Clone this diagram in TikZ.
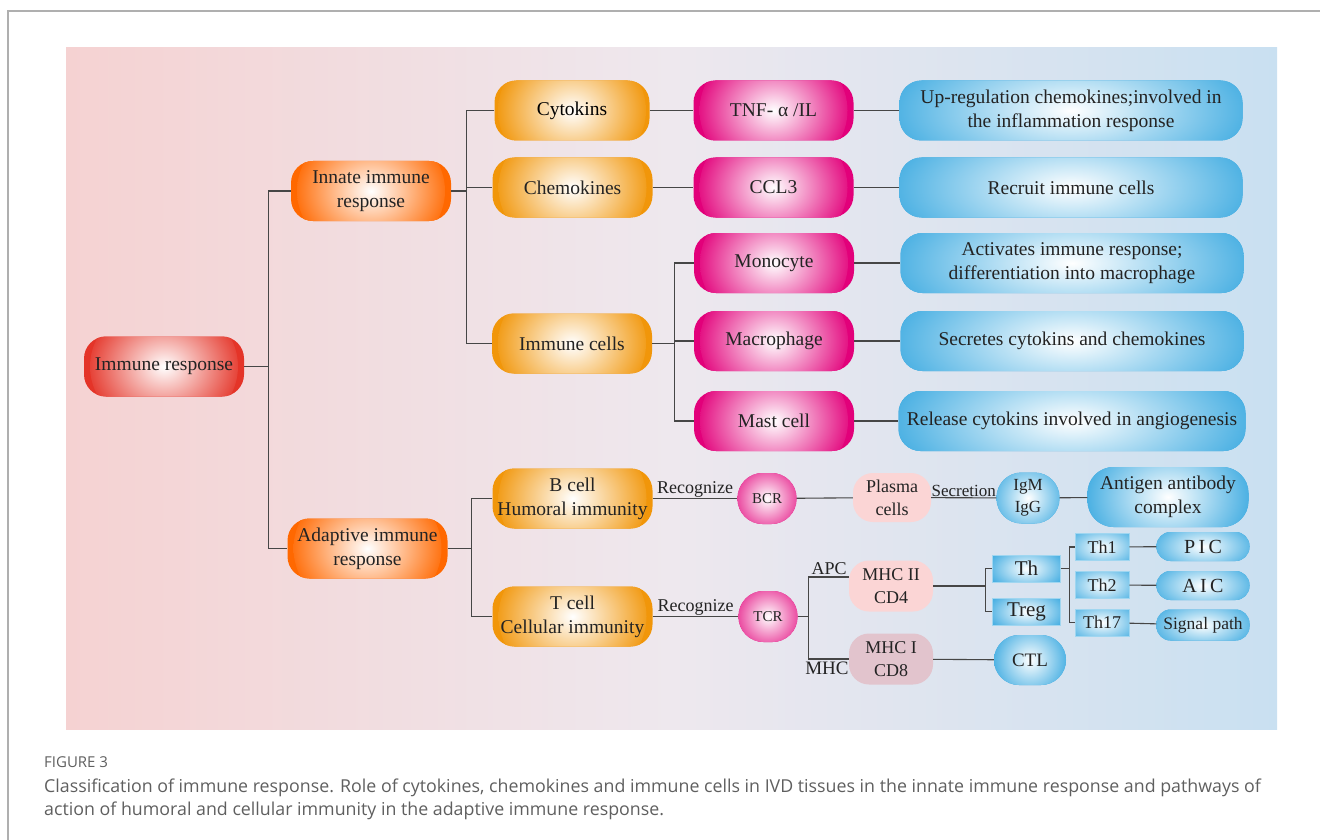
\documentclass[tikz,border=0pt]{standalone}
\usepackage{fontspec}
\setmainfont{Liberation Serif}
\newfontfamily\capfont{Open Sans}
\definecolor{cRed}{RGB}{228,52,40}
\definecolor{cOrange}{RGB}{255,104,0}
\definecolor{cAmber}{RGB}{241,150,10}
\definecolor{cMag}{RGB}{226,0,122}
\definecolor{cBlue}{RGB}{44,163,222}
\definecolor{cPink}{RGB}{251,213,213}
\definecolor{cMauve}{RGB}{226,196,205}
\definecolor{cLine}{RGB}{70,70,70}
\definecolor{cTxt}{RGB}{35,35,35}
\definecolor{bgL}{RGB}{245,210,210}
\definecolor{bgM}{RGB}{238,232,238}
\definecolor{bgR}{RGB}{201,224,241}
\definecolor{cFrame}{RGB}{175,175,175}
\definecolor{capgray}{RGB}{95,95,95}
\tikzset{
  ln/.style={draw=cLine, line width=1.1pt},
  base/.style={rectangle, inner sep=0pt, align=center, text=cTxt, font=\fontsize{19.5}{24}\selectfont},
  glow/.style n args={3}{fill=#1, path picture={\shade[inner color=white, outer color=#1] (path picture bounding box.center) ellipse [x radius=#2, y radius=#3];}},
  pill/.style={base, rounded corners=22pt, minimum width=160pt, minimum height=60pt},
  redpill/.style={pill, glow={cRed}{74pt}{66pt}},
  orapill/.style={pill, glow={cOrange}{74pt}{66pt}},
  ambpill/.style={pill, glow={cAmber}{74pt}{66pt}},
  magpill/.style={pill, glow={cMag}{74pt}{66pt}},
  widepill/.style={base, rounded corners=22pt, minimum width=343pt, minimum height=60pt, glow={cBlue}{210pt}{85pt}},
  magdot/.style={base, rounded corners=25pt, minimum width=59pt, minimum height=51pt, glow={cMag}{42pt}{42pt}, font=\fontsize{15}{18}\selectfont},
  bluedot/.style={base, rounded corners=25pt, minimum height=51pt, glow={cBlue}{44pt}{44pt}, font=\fontsize{17}{22}\selectfont},
  softbox/.style={base, rounded corners=20pt, minimum width=84pt, minimum height=51pt, font=\fontsize{18}{23}\selectfont},
  threct/.style={base, minimum height=27pt, draw=cBlue!45!white, line width=0.8pt, glow={cBlue}{46pt}{26pt}},
  smallpill/.style={base, rounded corners=14pt, minimum width=93pt, minimum height=29pt, glow={cBlue}{62pt}{30pt}},
  lbl/.style={inner sep=1pt, text=cTxt, font=\fontsize{18}{22}\selectfont},
}
\begin{document}
\begin{tikzpicture}[x=1pt,y=-1pt]
\useasboundingbox (0,0) rectangle (1320,840);
% frame and background
\draw[cFrame, line width=1.5pt] (8,840) -- (8,11) -- (1320,11);
\shade[left color=bgL, right color=bgR, middle color=bgM] (66,48) rectangle (1277,729);

% level 0-1
\node[redpill] (imm) at (164,366.5) {Immune response};
\node[orapill] (inn) at (371,191) {Innate immune\\response};
\node[orapill] (adp) at (367.5,548.5) {Adaptive immune\\response};

% innate level 2
\node[ambpill, minimum width=155pt, text=black] (cyto) at (572,110.5) {Cytokins};
\node[ambpill] (chemo) at (572.5,187.5) {Chemokines};
\node[ambpill] (icells) at (572,343.5) {Immune cells};

% innate level 3
\node[magpill] (tnf) at (773.5,110.5) {TNF- α /IL};
\node[magpill] (ccl) at (773.5,187.5) {CCL3};
\node[magpill] (mono) at (774,263) {Monocyte};
\node[magpill] (macro) at (774,341) {Macrophage};
\node[magpill] (mast) at (774,421) {Mast cell};

% innate level 4
\node[widepill] (up) at (1071,110.5) {Up-regulation chemokines;involved in\\the inflammation response};
\node[widepill] (rec) at (1071,187.5) {Recruit immune cells};
\node[widepill] (act) at (1072,263) {Activates immune response;\\differentiation into macrophage};
\node[widepill] (sec) at (1072,341) {Secretes cytokins and chemokines};
\node[widepill, minimum width=347pt] (rel) at (1072,421) {Release cytokins involved in angiogenesis};

% adaptive
\node[ambpill] (bcell) at (572.5,498.5) {B cell\\Humoral immunity};
\node[ambpill] (tcell) at (572.5,616.5) {T cell\\Cellular immunity};
\node[magdot] (bcr) at (767,498.5) {BCR};
\node[magdot] (tcr) at (768,616.5) {TCR};
\node[softbox, fill=cPink, minimum width=78pt, minimum height=49pt] (plasma) at (892,497.5) {Plasma\\cells};
\node[bluedot, minimum width=63pt] (igm) at (1028,498) {IgM\\IgG};
\node[base, rounded corners=26pt, minimum width=161pt, minimum height=60pt, glow={cBlue}{95pt}{72pt}] (ag) at (1168,497) {Antigen antibody\\complex};
\node[softbox, fill=cPink] (mhc2) at (891,586) {MHC II\\CD4};
\node[softbox, fill=cMauve] (mhc1) at (891,659) {MHC I\\CD8};
\node[threct, minimum width=68pt, font=\fontsize{21}{24}\selectfont] (th) at (1026.5,568.5) {Th};
\node[threct, minimum width=68pt, font=\fontsize{21}{24}\selectfont] (treg) at (1026.5,611.5) {Treg};
\node[threct, minimum width=54pt, font=\fontsize{18}{22}\selectfont] (th1) at (1102,547) {Th1};
\node[threct, minimum width=54pt, font=\fontsize{18}{22}\selectfont] (th2) at (1102,585) {Th2};
\node[threct, minimum width=54pt, font=\fontsize{18}{22}\selectfont] (th17) at (1102,622.5) {Th17};
\node[smallpill, font=\fontsize{20}{24}\selectfont] (pic) at (1203,546.5) {P\,I\,C};
\node[smallpill, font=\fontsize{20}{24}\selectfont] (aic) at (1203,585.5) {A\,I\,C};
\node[smallpill, minimum height=31pt, font=\fontsize{17.5}{22}\selectfont] (sig) at (1203,625) {Signal path};
\node[bluedot, minimum width=72pt, minimum height=50pt, font=\fontsize{19}{22}\selectfont] (ctl) at (1030,660) {CTL};

% connectors: innate
\draw[ln] (imm.east) -- ++(24,0) coordinate (j1);
\draw[ln] (inn.west) -| (j1) |- (adp.west);
\draw[ln] (inn.east) -- ++(15,0) coordinate (j2);
\draw[ln] (cyto.west) -| (j2) |- (icells.west);
\draw[ln] (j2) |- (chemo.west);
\draw[ln] (cyto) -- (tnf);
\draw[ln] (chemo) -- (ccl);
\draw[ln] (tnf) -- (up);
\draw[ln] (ccl) -- (rec);
\draw[ln] (icells.east) -- ++(22,0) coordinate (j3);
\draw[ln] (mono.west) -| (j3) |- (mast.west);
\draw[ln] (j3) |- (macro.west);
\draw[ln] (mono) -- (act);
\draw[ln] (macro) -- (sec);
\draw[ln] (mast) -- (rel);

% connectors: adaptive
\draw[ln] (adp.east) -- ++(24,0) coordinate (j4);
\draw[ln] (bcell.west) -| (j4) |- (tcell.west);
\draw[ln] (bcell) -- node[lbl, above=0pt] (recb) {Recognize} (bcr);
\draw[ln] (bcr) -- (plasma);
\draw[ln] (plasma) -- node[lbl, above=0pt, font=\fontsize{17}{22}\selectfont] (secr) {Secretion} (igm);
\draw[ln] (igm) -- (ag);
\draw[ln] (tcell) -- node[lbl, above=0pt] (rect) {Recognize} (tcr);
\draw[ln] (tcr.east) -- ++(11,0) coordinate (j5);
\draw[ln] ([yshift=9pt]mhc2.west) -| (j5) |- (mhc1.west);
\node[lbl, anchor=south east] (apc) at ([yshift=10pt,xshift=-1pt]mhc2.west) {APC};
\node[lbl, anchor=north east, font=\fontsize{19}{22}\selectfont] (mhcl) at ([yshift=-2pt,xshift=1pt]mhc1.west) {MHC};
\draw[ln] (mhc2.east) -- ++(52,0) coordinate (j6);
\draw[ln] (th.west) -| (j6) |- (treg.west);
\draw[ln] (th.east) -- ++(9,0) coordinate (j7);
\draw[ln] (th1.west) -| (j7) |- (th17.west);
\draw[ln] (th1) -- (pic);
\draw[ln] (th2) -- (aic);
\draw[ln] (th17) -- (sig);
\draw[ln] (mhc1) -- (ctl);

% caption
\node[anchor=base west, inner sep=0pt, text=capgray, font=\capfont\fontsize{15}{17}\selectfont] (fig) at (44,767) {FIGURE 3};
\node[anchor=base west, inner sep=0pt, text=capgray, font=\capfont\fontsize{17.8}{21}\selectfont] (cap1) at (44,792) {Classification of immune response. Role of cytokines, chemokines and immune cells in IVD tissues in the innate immune response and pathways of};
\node[anchor=base west, inner sep=0pt, text=capgray, font=\capfont\fontsize{17.8}{21}\selectfont] (cap2) at (44,815) {action of humoral and cellular immunity in the adaptive immune response.};
\end{tikzpicture}
\end{document}
